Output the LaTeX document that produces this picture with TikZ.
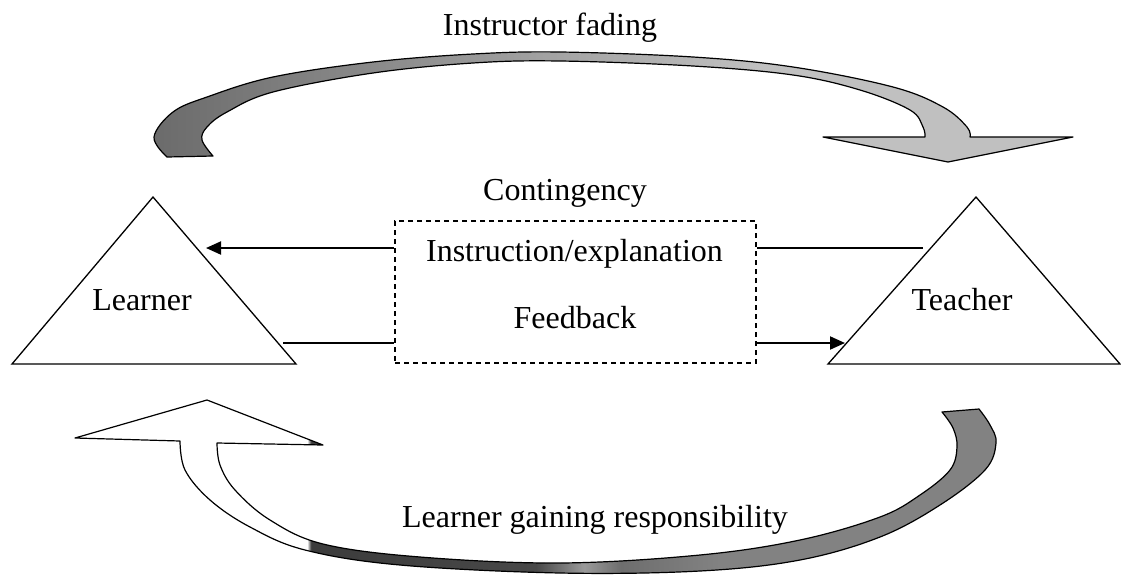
\documentclass[tikz,border=0pt]{standalone}
\usepackage{fontspec}
\setmainfont{Liberation Serif}
\usetikzlibrary{arrows.meta,calc}

% colours of the two curved band arrows
\definecolor{topA}{HTML}{6B6B6B}
\definecolor{topC}{HTML}{C0C0C0}
\definecolor{botA}{HTML}{3C3C3C}
\definecolor{botB}{HTML}{484848}
\definecolor{botC}{HTML}{9A9A9A}
\definecolor{botD}{HTML}{6E6E6E}
\definecolor{botE}{HTML}{828282}

% left-to-right fills (the path box spans 25bp..75bp)
\pgfdeclarehorizontalshading{fadetop}{100bp}{color(0bp)=(topA); color(25bp)=(topA); color(58bp)=(topC); color(100bp)=(topC)}
\pgfdeclarehorizontalshading{fadebot}{100bp}{color(0bp)=(white); color(37.6bp)=(white); color(37.8bp)=(botA); color(50bp)=(botB); color(52.6bp)=(botC); color(54.6bp)=(botD); color(60bp)=(botE); color(100bp)=(botE)}

\tikzset{
  txt/.style={font=\fontsize{32}{38}\selectfont, inner sep=0pt, anchor=base},
  tri/.style={draw, line width=1.3pt, line join=miter},
  link/.style={line width=2pt},
  tipped/.style={-{Triangle[length=15pt,width=13pt]}},
  dashbox/.style={draw, dash pattern=on 5pt off 4pt, line width=1.2pt,
    minimum width=361pt, minimum height=142pt, inner sep=0pt},
  band/.style={shade, draw=black, line width=1.2pt, line join=round},
}

\begin{document}
\begin{tikzpicture}[x=1pt,y=-1pt]
  \useasboundingbox (0,0) rectangle (1121,576);
  \fill[white] (0,0) rectangle (1121,576);

  % upper curved arrow: learner side to teacher side
  \path[band, shading=fadetop]
    plot[smooth, tension=0.6] coordinates {(167,157) (154,137) (173,112) (207,97) (273,77) (373,62) (473,54) (560,52) (693,57) (793,67) (893,87) (943,107) (967,127) (970,137)}
    -- (1073,137) -- (948,162) -- (823,137) --
    plot[smooth, tension=0.6] coordinates {(925,137) (923,127) (910,110) (860,90) (793,75) (693,66) (560,61) (473,63) (373,73) (273,92) (227,112) (207,127) (202,140) (213,156)}
    -- cycle;

  % lower curved arrow: teacher side back to learner side
  \path[band, shading=fadebot]
    plot[smooth, tension=0.6] coordinates {(979,409) (990,425) (996,443) (985,470) (940,505) (880,537) (800,560) (700,571) (560,573) (400,565) (305,550) (250,527) (210,500) (185,470) (180,441)}
    -- (75,438) -- (207,400) -- (323,445) --
    plot[smooth, tension=0.6] coordinates {(217,443) (220,465) (235,490) (270,520) (323,544) (420,557) (560,563) (700,555) (800,540) (880,517) (920,495) (950,470) (957,447) (953,428) (942,412)}
    -- cycle;

  % the two parties
  \coordinate (Ltop) at (153,197);
  \coordinate (Lleft) at (12,364);
  \coordinate (Lright) at (296,364);
  \coordinate (Ttop) at (976,197);
  \coordinate (Tleft) at (828,364);
  \coordinate (Tright) at (1120,364);
  \draw[tri] (Ltop) -- (Lleft) -- (Lright) -- cycle;
  \draw[tri] (Ttop) -- (Tleft) -- (Tright) -- cycle;
  \node[txt] (lname) at (142,310) {Learner};
  \node[txt] (tname) at (962,310) {Teacher};

  % contingency box
  \node[dashbox] (box) at (575.5,292) {};
  \node[txt] (cont) at (565,200) {Contingency};
  \node[txt] (instr) at (574.5,261) {Instruction/explanation};
  \node[txt] (feed) at (575,328) {Feedback};

  % connectors between the parties and the box
  \coordinate (Lin) at (206,248);
  \coordinate (Lout) at (283,343);
  \coordinate (Tout) at (923,248);
  \coordinate (Tin) at (845,343);
  \draw[link, tipped] (box.west |- Lin) -- (Lin);
  \draw[link] (Lout) -- (box.west |- Lout);
  \draw[link] (box.east |- Tout) -- (Tout);
  \draw[link, tipped] (box.east |- Tin) -- (Tin);

  % captions of the curved arrows
  \node[txt] (fading) at (550,35) {Instructor fading};
  \node[txt] (gain) at (595,527) {Learner gaining responsibility};
\end{tikzpicture}
\end{document}
